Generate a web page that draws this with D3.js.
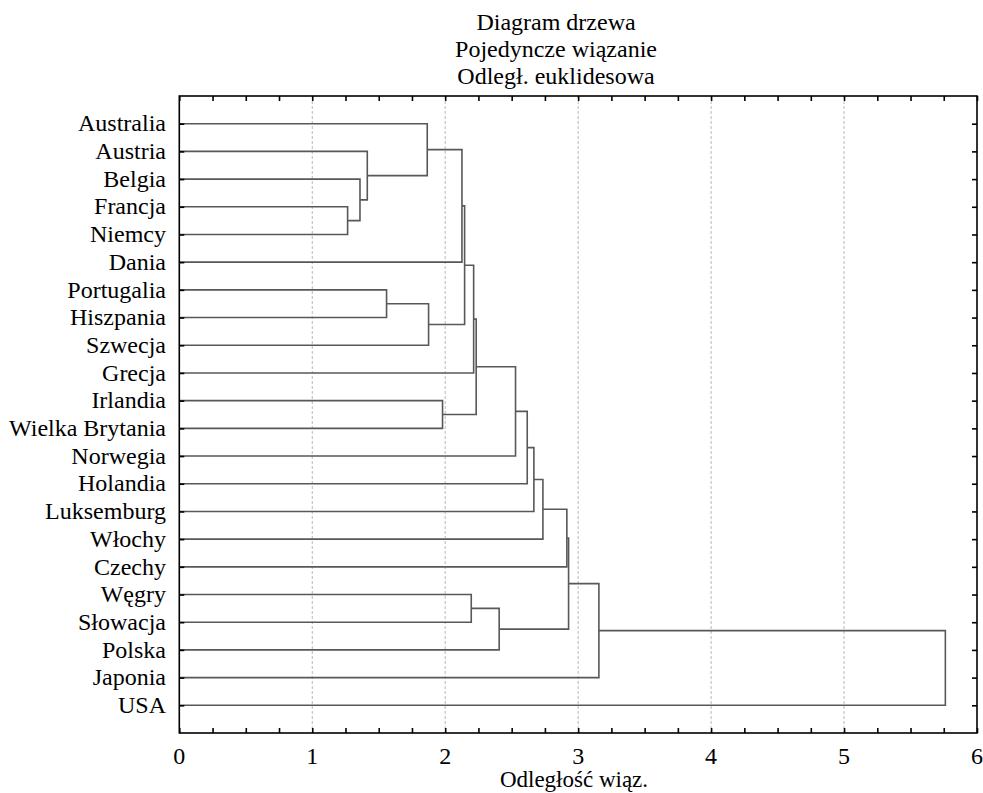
<!DOCTYPE html>
<html>
<head>
<meta charset="utf-8">
<script src="https://cdn.jsdelivr.net/npm/d3@7"></script>
<style>
  body { margin: 0; background: #fff; }
  text { font-family: "Liberation Serif", serif; }
</style>
</head>
<body>
<div id="chart"></div>
<script>
// leaves, top to bottom
const leaves = ["Australia", "Austria", "Belgia", "Francja", "Niemcy", "Dania",
  "Portugalia", "Hiszpania", "Szwecja", "Grecja", "Irlandia", "Wielka Brytania",
  "Norwegia", "Holandia", "Luksemburg", "Włochy", "Czechy", "Węgry", "Słowacja",
  "Polska", "Japonia", "USA"];

// linkage: [childA, childB, distance]; index < 22 is a leaf, 22+k is merge k
const merges = [
  [3, 4, 1.266],
  [2, 22, 1.359],
  [1, 23, 1.414],
  [6, 7, 1.559],
  [0, 24, 1.865],
  [25, 8, 1.875],
  [10, 11, 1.98],
  [26, 5, 2.126],
  [29, 27, 2.146],
  [17, 18, 2.196],
  [30, 9, 2.214],
  [32, 28, 2.233],
  [31, 19, 2.406],
  [33, 12, 2.529],
  [35, 13, 2.617],
  [36, 14, 2.667],
  [37, 15, 2.735],
  [38, 16, 2.915],
  [39, 34, 2.928],
  [40, 20, 3.156],
  [41, 21, 5.762]
];

const xTicks = [0, 1, 2, 3, 4, 5, 6];
const titleLines = ["Diagram drzewa", "Pojedyncze wiązanie", "Odległ. euklidesowa"];
const xTitle = "Odległość wiąz.";

(function(){
  const width = 983, height = 793;
  const left = 179.3, right = 977, top = 96, bottom = 733;
  const fs = 24;

  const svg = d3.select("#chart").append("svg")
    .attr("width", width)
    .attr("height", height);

  const x = d3.scaleLinear().domain([0, 6]).range([left, right]);
  const y = d3.scalePoint().domain(leaves).range([top, bottom]).padding(1);

  // gridlines
  svg.append("g")
    .selectAll("line")
    .data(xTicks.filter(d => d > 0 && d < 6))
    .join("line")
    .attr("x1", d => x(d)).attr("x2", d => x(d))
    .attr("y1", top).attr("y2", bottom)
    .attr("stroke", "#b8b8b8")
    .attr("stroke-width", 1)
    .attr("stroke-dasharray", "3,2");

  // node positions
  const n = leaves.length;
  const nodes = leaves.map(d => ({ y: y(d), h: 0 }));
  merges.forEach(m => {
    const a = nodes[m[0]], b = nodes[m[1]];
    nodes.push({ y: (a.y + b.y) / 2, h: m[2], a: a, b: b });
  });

  const lines = svg.append("g")
    .attr("fill", "none")
    .attr("stroke", "#585858")
    .attr("stroke-width", 1.6);

  nodes.slice(n).forEach(nd => {
    const p = d3.path();
    p.moveTo(x(nd.a.h), nd.a.y);
    p.lineTo(x(nd.h), nd.a.y);
    p.lineTo(x(nd.h), nd.b.y);
    p.lineTo(x(nd.b.h), nd.b.y);
    lines.append("path").attr("d", p.toString());
  });

  // frame
  svg.append("rect")
    .attr("x", left).attr("y", top)
    .attr("width", right - left).attr("height", bottom - top)
    .attr("fill", "none")
    .attr("stroke", "#000")
    .attr("stroke-width", 1.6);

  const minor = d3.range(0, 6.001, 0.25);

  // bottom and top axes (ticks inward)
  const xAxis = d3.axisBottom(x).tickValues(minor).tickSize(-5).tickFormat("");
  svg.append("g").attr("transform", `translate(0,${bottom})`).call(xAxis)
    .call(g => g.select(".domain").remove())
    .call(g => g.selectAll("line").attr("stroke-width", 1.6));

  const xTop = d3.axisTop(x).tickValues(minor).tickSize(-5).tickFormat("");
  svg.append("g").attr("transform", `translate(0,${top})`).call(xTop)
    .call(g => g.select(".domain").remove())
    .call(g => g.selectAll("line").attr("stroke-width", 1.6));

  // tick labels
  svg.append("g")
    .selectAll("text")
    .data(xTicks)
    .join("text")
    .attr("x", d => x(d))
    .attr("y", 764)
    .attr("text-anchor", "middle")
    .attr("font-size", fs)
    .text(d => d);

  // y axes
  const yLeft = d3.axisLeft(y).tickSize(-5).tickFormat("");
  svg.append("g").attr("transform", `translate(${left},0)`).call(yLeft)
    .call(g => g.select(".domain").remove())
    .call(g => g.selectAll("line").attr("stroke-width", 1.6));

  const yRight = d3.axisRight(y).tickSize(-5).tickFormat("");
  svg.append("g").attr("transform", `translate(${right},0)`).call(yRight)
    .call(g => g.select(".domain").remove())
    .call(g => g.selectAll("line").attr("stroke-width", 1.6));

  svg.append("g")
    .selectAll("text")
    .data(leaves)
    .join("text")
    .attr("x", 166)
    .attr("y", d => y(d))
    .attr("dy", "0.32em")
    .attr("text-anchor", "end")
    .attr("font-size", fs)
    .text(d => d);

  // titles
  svg.append("g")
    .selectAll("text")
    .data(titleLines)
    .join("text")
    .attr("x", 556)
    .attr("y", (d, i) => 30 + i * 27)
    .attr("text-anchor", "middle")
    .attr("font-size", fs)
    .text(d => d);

  svg.append("text")
    .attr("x", 574)
    .attr("y", 787)
    .attr("text-anchor", "middle")
    .attr("font-size", 23)
    .text(xTitle);
})();
</script>
</body>
</html>
